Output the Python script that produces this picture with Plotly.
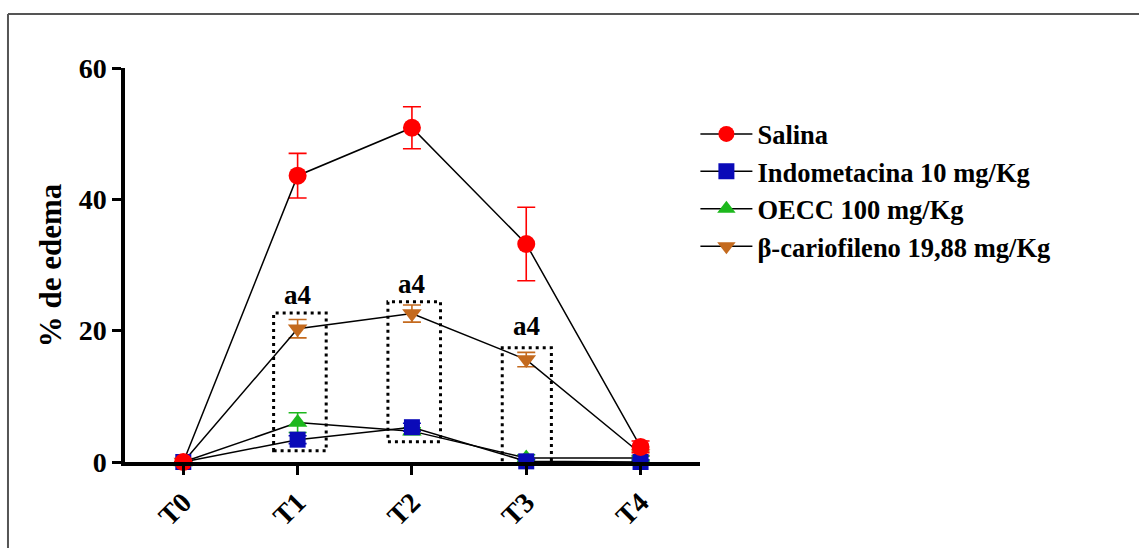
import plotly.graph_objects as go

# Time points
tempos = ["T0", "T1", "T2", "T3", "T4"]

# % de edema (mean) and error (SEM) per group
salina = [0.0, 43.6, 50.9, 33.2, 2.3]
salina_err = [0.0, 3.4, 3.2, 5.6, 0.9]

indometacina = [0.0, 3.4, 5.3, 0.1, 0.0]
indometacina_err = [0.0, 0.6, 0.6, 0.3, 0.3]

oecc = [0.0, 6.0, 4.7, 0.6, 0.6]
oecc_err = [0.0, 1.5, 0.5, 0.5, 0.3]

cariofileno = [0.0, 20.3, 22.6, 15.6, 1.3]
cariofileno_err = [0.0, 1.4, 1.3, 1.1, 0.3]

# Significance labels and the groups they mark
sig_x = [1, 2, 3]
sig_text = ["a4", "a4", "a4"]
sig_label_y = [25.4, 27.1, 20.7]
box_x0 = [0.79, 1.79, 2.79]
box_x1 = [1.25, 2.25, 3.22]
box_y0 = [1.7, 3.1, -0.9]
box_y1 = [22.7, 24.4, 17.4]

FONT = "Liberation Serif"
xi = list(range(len(tempos)))

series = [
    ("β-cariofileno 19,88 mg/Kg", cariofileno, cariofileno_err, "#C46A1E", "triangle-down", 17, 4),
    ("OECC 100 mg/Kg", oecc, oecc_err, "#1DB81D", "triangle-up", 17, 3),
    ("Indometacina 10 mg/Kg", indometacina, indometacina_err, "#0A0AB8", "square", 16, 2),
    ("Salina", salina, salina_err, "#FF0000", "circle", 18, 1),
]

fig = go.Figure()
for name, vals, errs, color, sym, size, rank in series:
    fig.add_trace(go.Scatter(
        x=xi, y=vals, name=name, mode="lines+markers",
        line=dict(color="black", width=1.5),
        marker=dict(symbol=sym, size=size, color=color, line=dict(width=0)),
        error_y=dict(type="data", array=errs, color=color, thickness=1.6, width=9),
        cliponaxis=False, legendrank=rank,
    ))

shapes = []
for x0, x1, y0, y1 in zip(box_x0, box_x1, box_y0, box_y1):
    shapes.append(dict(type="rect", xref="x", yref="y", x0=x0, x1=x1, y0=y0, y1=y1,
                       line=dict(color="black", width=3, dash="3px,4px")))

# outer frame (top and left edges)
shapes.append(dict(type="line", xref="paper", yref="paper", x0=-0.2035, x1=1.9,
                   y0=1.137, y1=1.137, line=dict(color="#555555", width=2)))
shapes.append(dict(type="line", xref="paper", yref="paper", x0=-0.2035, x1=-0.2035,
                   y0=1.137, y1=-0.4, line=dict(color="#555555", width=2)))

annotations = [
    dict(x=x, y=y, xref="x", yref="y", text=t, showarrow=False,
         font=dict(family=FONT, size=27, color="black", weight="bold"))
    for x, y, t in zip(sig_x, sig_label_y, sig_text)
]
annotations.append(dict(
    x=-0.130, y=0.5, xref="paper", yref="paper", text="% de edema", textangle=-90,
    xanchor="center", yanchor="middle",
    showarrow=False, font=dict(family=FONT, size=31, color="black", weight="bold")))

fig.update_layout(
    width=1139, height=548,
    margin=dict(l=125, r=439, t=68, b=86),
    paper_bgcolor="white", plot_bgcolor="white",
    showlegend=True,
    legend=dict(x=0.992, xanchor="left", y=0.893, yanchor="top",
                font=dict(family=FONT, size=26.5, color="black", weight="bold"),
                itemwidth=52, tracegroupgap=0, bgcolor="rgba(0,0,0,0)"),
    shapes=shapes, annotations=annotations,
    xaxis=dict(range=[-0.51, 4.52], tickmode="array", tickvals=xi, ticktext=tempos,
               tickangle=-45, showgrid=False, zeroline=False,
               showline=True, linecolor="black", linewidth=3.5,
               ticks="outside", ticklen=9, tickwidth=3, tickcolor="black",
               tickfont=dict(family=FONT, size=28, color="black", weight="bold")),
    yaxis=dict(range=[0, 60], tickvals=[0, 20, 40, 60], showgrid=False, zeroline=False,
               showline=True, linecolor="black", linewidth=3.5,
               ticks="outside", ticklen=9, tickwidth=3, tickcolor="black",
               tickfont=dict(family=FONT, size=28, color="black", weight="bold")),
)

fig.write_html("out.html")
